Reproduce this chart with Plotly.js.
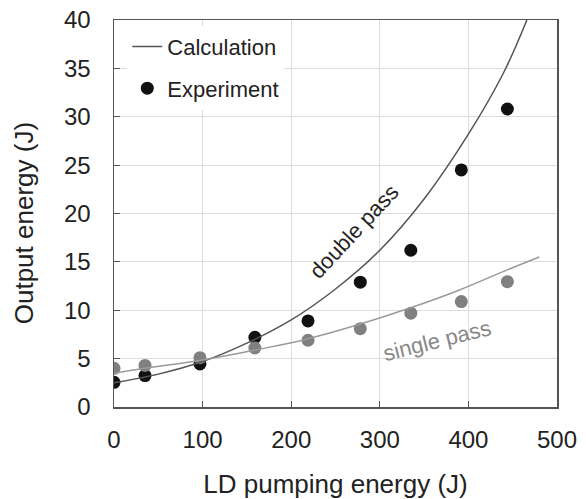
<!DOCTYPE html>
<html>
<head>
<meta charset="utf-8">
<script src="https://cdn.plot.ly/plotly-3.0.1.min.js"></script>
<style>html,body{margin:0;padding:0;background:#fff;}#chart{width:586px;height:499px;}</style>
</head>
<body>
<div id="chart"></div>
<script>
// Experimental points
const expX = [0, 35, 97, 159, 219, 278, 335, 392, 444];
const expDouble = [2.55, 3.25, 4.45, 7.2, 8.9, 12.9, 16.2, 24.5, 30.8];
const expSingle = [4.0, 4.3, 5.1, 6.1, 6.9, 8.1, 9.7, 10.9, 12.95];

// Calculation curves
const calcDoubleX = [0, 50, 100, 150, 200, 250, 300, 350, 400, 440, 466];
const calcDoubleY = [2.5, 3.4, 4.7, 6.6, 9.0, 12.2, 16.2, 21.5, 28.2, 34.6, 40];
const calcSingleX = [0, 35, 100, 160, 215, 279, 333, 390, 442, 480];
const calcSingleY = [3.5, 4.0, 4.85, 5.9, 6.95, 8.6, 10.2, 12.1, 14.1, 15.5];

const xTicks = [0, 100, 200, 300, 400, 500];
const yTicks = [0, 5, 10, 15, 20, 25, 30, 35, 40];

const FONT = 'Liberation Sans, Arial, sans-serif';

const traces = [
  {x: expX, y: expDouble, mode: 'markers', type: 'scatter', name: 'Experiment',
   marker: {color: '#111111', size: 13}, showlegend: true, legendrank: 2, legendgroup: 'b'},
  {x: expX, y: expSingle, mode: 'markers', type: 'scatter', name: 'single exp',
   marker: {color: '#808080', size: 13}, showlegend: false},
  {x: calcDoubleX, y: calcDoubleY, mode: 'lines', type: 'scatter', name: 'Calculation',
   line: {color: '#555555', width: 1.5, shape: 'spline'}, showlegend: true, legendrank: 1, legendgroup: 'a'},
  {x: calcSingleX, y: calcSingleY, mode: 'lines', type: 'scatter', name: 'single calc',
   line: {color: '#9a9a9a', width: 1.5, shape: 'spline'}, showlegend: false}
];

const layout = {
  width: 586, height: 499,
  margin: {l: 114, r: 29, t: 20, b: 92},
  paper_bgcolor: '#ffffff', plot_bgcolor: '#ffffff',
  font: {family: FONT, color: '#222222'},
  showlegend: true,
  legend: {
    x: 0.03, y: 0.985, xanchor: 'left', yanchor: 'top',
    bgcolor: '#ffffff', borderwidth: 0,
    font: {family: FONT, size: 22, color: '#222222'},
    traceorder: 'grouped', tracegroupgap: 10, itemwidth: 30
  },
  xaxis: {
    range: [0, 500], tickvals: xTicks, ticktext: xTicks.map(String),
    showgrid: true, gridcolor: '#dddddd', gridwidth: 1,
    showline: true, linecolor: '#555555', linewidth: 1.5, mirror: true,
    ticks: 'inside', ticklen: 6, tickcolor: '#555555', tickwidth: 1,
    zeroline: false, tickfont: {family: FONT, size: 24, color: '#222222'},
    ticklabelstandoff: 11,
    title: {text: 'LD pumping energy (J)', font: {family: FONT, size: 26, color: '#222222'}, standoff: 26}
  },
  yaxis: {
    range: [0, 40], tickvals: yTicks, ticktext: yTicks.map(String),
    showgrid: true, gridcolor: '#dddddd', gridwidth: 1,
    showline: true, linecolor: '#555555', linewidth: 1.5, mirror: true,
    ticks: 'inside', ticklen: 6, tickcolor: '#555555', tickwidth: 1,
    zeroline: false, tickfont: {family: FONT, size: 24, color: '#222222'},
    ticklabelstandoff: 17
  },
  annotations: [
    {text: 'Output energy (J)', xref: 'paper', yref: 'paper', x: -0.203, y: 0.475,
     xanchor: 'center', yanchor: 'middle', showarrow: false, textangle: -90,
     font: {family: FONT, size: 26, color: '#222222'}},
    {text: 'double pass', xref: 'x', yref: 'y', x: 271, y: 18.1, showarrow: false,
     textangle: -47, font: {family: FONT, size: 22, color: '#222222'}},
    {text: 'single pass', xref: 'x', yref: 'y', x: 365, y: 6.9, showarrow: false,
     textangle: -14, font: {family: FONT, size: 22, color: '#888888'}}
  ]
};

Plotly.newPlot('chart', traces, layout, {displayModeBar: false, staticPlot: true});
</script>
</body>
</html>
